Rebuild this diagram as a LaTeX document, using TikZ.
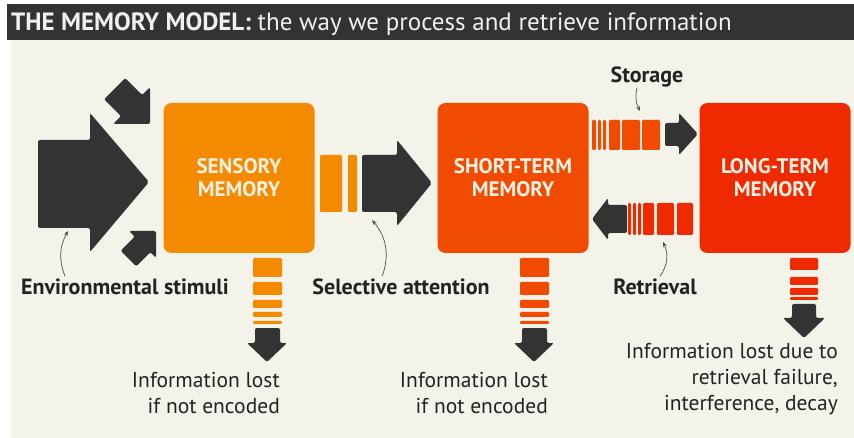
\documentclass[tikz,border=0pt]{standalone}
\usepackage{fontspec}
\setmainfont{PT Sans}
\usetikzlibrary{arrows.meta}
\definecolor{cream}{HTML}{F3F3EA}
\definecolor{dark}{HTML}{333333}
\definecolor{ink}{HTML}{222222}
\definecolor{titletext}{HTML}{F0F0F0}
\definecolor{boxtext}{HTML}{FFF1E4}
\definecolor{sensorycol}{HTML}{F38A00}
\definecolor{stmcol}{HTML}{F04B00}
\definecolor{ltmcol}{HTML}{EF2A00}
\begin{document}
\begin{tikzpicture}
  [x=1pt,y=-1pt,every node/.style={inner sep=0pt}]
  \tikzstyle{membox} = [rounded corners=8pt,minimum width=151pt,minimum height=150pt,align=center,text=boxtext,font=\bfseries\fontsize{21}{23}\selectfont]
  \tikzstyle{lbl} = [anchor=base,text=ink,font=\bfseries\fontsize{22}{24}\selectfont]
  \tikzstyle{lost} = [anchor=base east,align=right,text=ink,font=\fontsize{21.5}{26}\selectfont]
  \tikzstyle{blk} = [fill=dark,rounded corners=2pt]
  \tikzstyle{bar} = [rounded corners=1.2pt]
  \tikzstyle{pointer} = [draw=ink!80,line width=.7pt,-{Stealth[length=5pt,width=4pt]}]

  % background and title
  \useasboundingbox (0,0) rectangle (854,438);
  \fill[white] (0,0) rectangle (854,438);
  \fill[cream] (11,40) rectangle (854,438);
  \fill[dark] (7,4) rectangle (854,40);
  \node[anchor=base west,text=titletext,font=\fontsize{25}{25}\selectfont] (title) at (11,31)
    {\textbf{THE MEMORY MODEL:} the way we process and retrieve information};

  % the three stores
  \node[membox,fill=sensorycol] (sensory) at (239,178) {SENSORY\\MEMORY};
  \node[membox,fill=stmcol] (stm) at (513,178) {SHORT-TERM\\MEMORY};
  \node[membox,fill=ltmcol] (ltm) at (775,178) {LONG-TERM\\MEMORY};

  % environmental stimuli
  \fill[blk] (38,140) -- (90,140) -- (90,113) -- (149,182) -- (90,252) -- (90,228) -- (38,228) -- cycle;
  \begin{scope}[shift={(150,124)},rotate=-45]
    \fill[blk] (0,0) -- (-26,-26) -- (-26,-15) -- (-50,-15) -- (-50,15) -- (-26,15) -- (-26,26) -- cycle;
  \end{scope}
  \begin{scope}[shift={(156,231)},rotate=45]
    \fill[blk] (0,0) -- (-19,-19) -- (-19,-11) -- (-39,-11) -- (-39,11) -- (-19,11) -- (-19,19) -- cycle;
  \end{scope}

  % selective attention
  \foreach \a/\b in {320/342,348/357}
    \fill[bar,sensorycol] (\a,155) rectangle (\b,212);
  \fill[blk] (362,155) -- (397,155) -- (397,140) -- (432,183) -- (397,226) -- (397,212) -- (362,212) -- cycle;

  % storage and retrieval
  \foreach \a/\b in {592/596,598/601,603/606,609/620,622/640,642/660}
    \fill[bar,stmcol] (\a,120) rectangle (\b,150);
  \fill[blk] (665,123) -- (679,123) -- (679,113) -- (698,134) -- (679,155) -- (679,146) -- (665,146) -- cycle;
  \foreach \a/\b in {628/631,633/636,638/641,643/654,657/674,677/693}
    \fill[bar,ltmcol] (\a,203) rectangle (\b,235);
  \fill[blk] (627,205) -- (608,205) -- (608,198) -- (592,219) -- (608,240) -- (608,233) -- (627,233) -- cycle;

  % information lost
  \foreach \dx/\col in {0/sensorycol,267/stmcol}{
    \begin{scope}[shift={(\dx,0)}]
      \foreach \a/\b in {258/277,282/295,300/308,312/317,321/324}
        \fill[bar,\col] (253,\a) rectangle (282,\b);
      \fill[blk] (255,328) -- (255,343) -- (247,343) -- (267,362) -- (287,343) -- (280,343) -- (280,328) -- cycle;
    \end{scope}
  }
  \foreach \a/\b in {258/270,277/285,288/295,297/300}
    \fill[bar,ltmcol] (790,\a) rectangle (818,\b);
  \fill[blk] (792,304) -- (792,318) -- (783,318) -- (804,338) -- (825,318) -- (816,318) -- (816,304) -- cycle;

  % labels
  \node[lbl] (envlbl) at (125,295) {Environmental stimuli};
  \node[lbl] (sellbl) at (401,295) {Selective attention};
  \node[lbl] (storelbl) at (647,83) {Storage};
  \node[lbl] (retrlbl) at (655,295) {Retrieval};
  \node[lost] (lost1) at (280,413) {Information lost\\if not encoded};
  \node[lost] (lost2) at (548,413) {Information lost\\if not encoded};
  \node[lost] (lost3) at (838,410) {Information lost due to\\retrieval failure,\\interference, decay};

  % pointers
  \coordinate (envto) at (68,231);
  \coordinate (selto) at (372,220);
  \coordinate (storeto) at (640,111);
  \coordinate (retrto) at (663,242);
  \draw[pointer] (envlbl.north west) ++(44,-3) to[bend left=25] (envto);
  \draw[pointer] (sellbl.north west) ++(70,-3) to[bend right=30] (selto);
  \draw[pointer] (storelbl.south) ++(-10,0) to[bend right=20] (storeto);
  \draw[pointer] (retrlbl.north west) ++(47,-3) to[bend right=30] (retrto);
\end{tikzpicture}
\end{document}
